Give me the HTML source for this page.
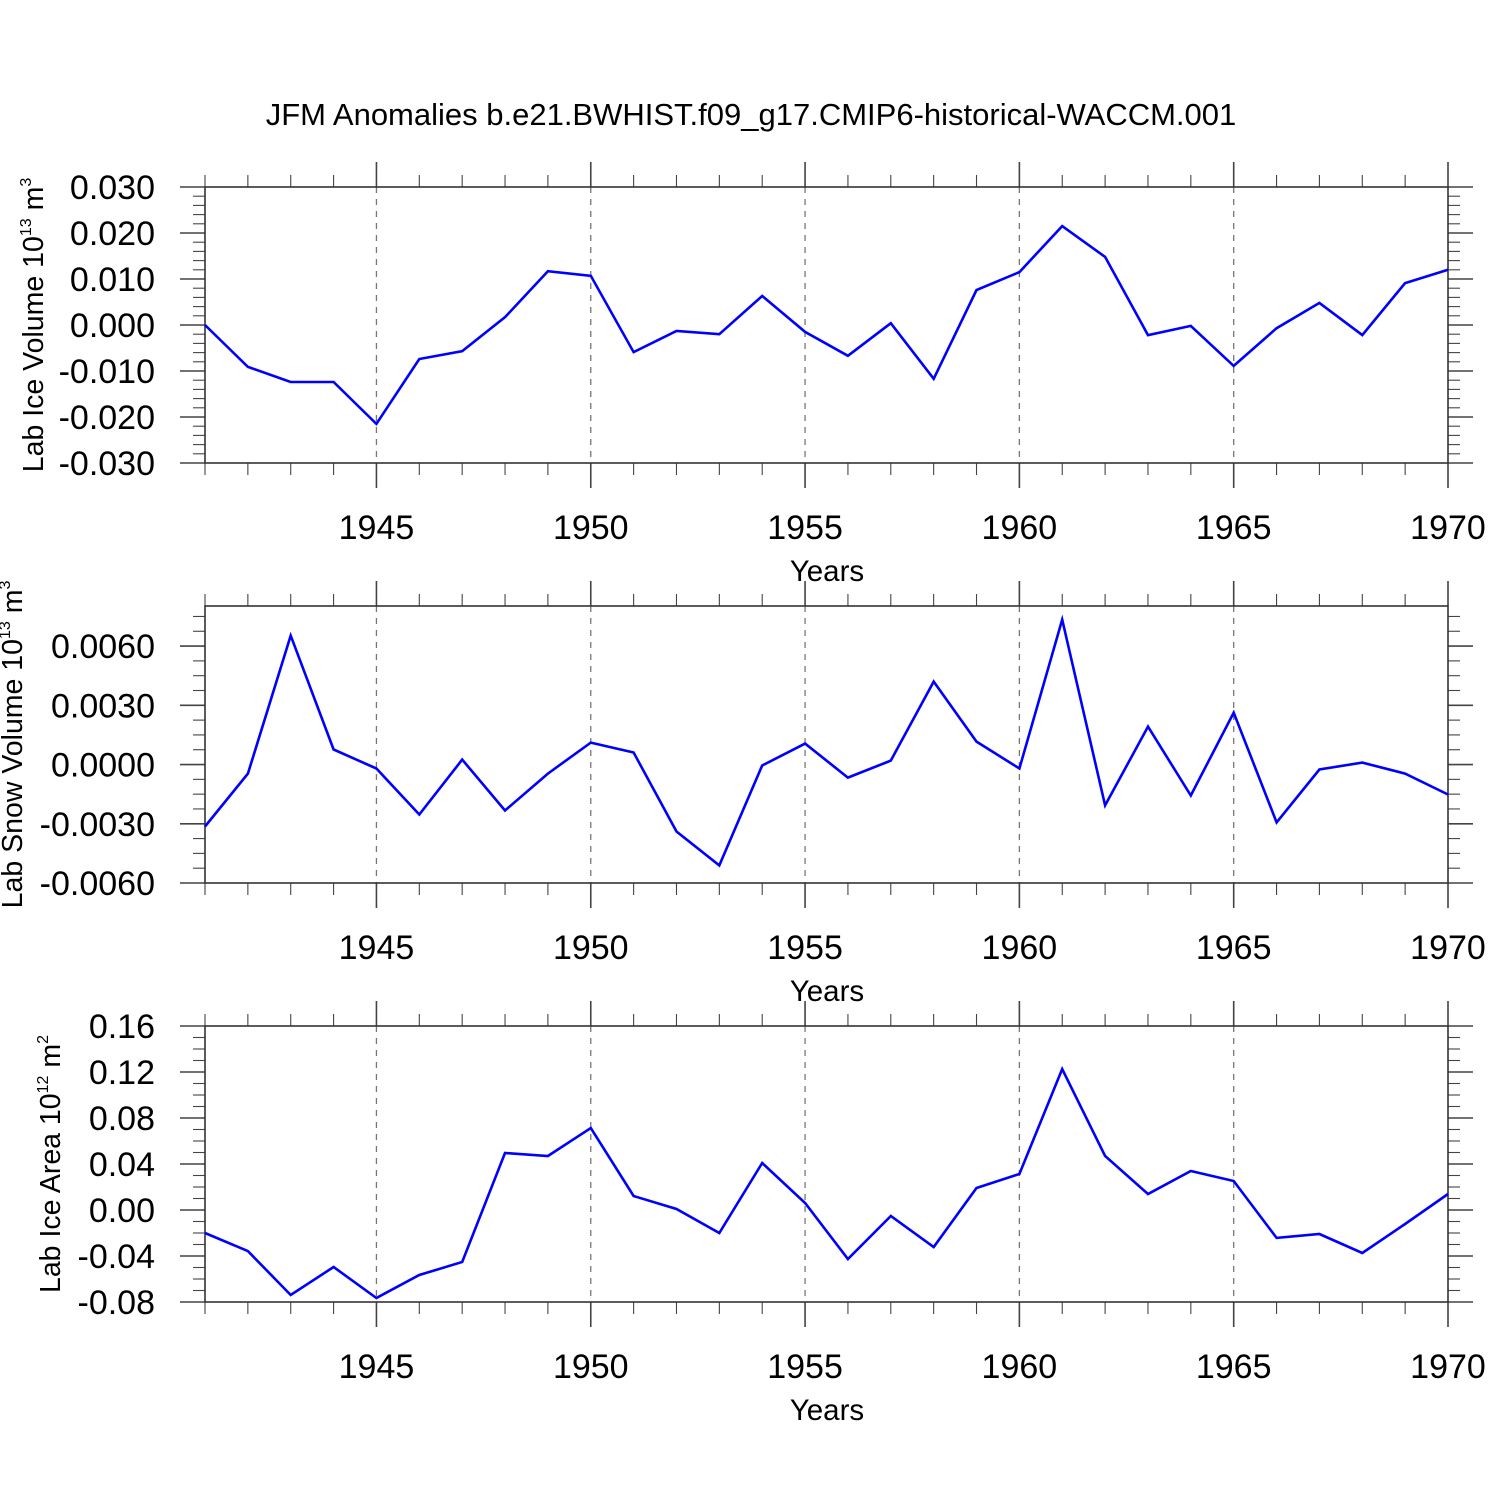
<!DOCTYPE html>
<html><head><meta charset="utf-8"><style>
html,body{margin:0;padding:0;background:#fff;}
svg{display:block;font-family:"Liberation Sans",sans-serif;}
</style></head><body>
<svg id="chart" width="1500" height="1500" xmlns="http://www.w3.org/2000/svg">
<text x="751" y="125" font-size="31" text-anchor="middle">JFM Anomalies b.e21.BWHIST.f09_g17.CMIP6-historical-WACCM.001</text>
</svg>
<script>
const years = [1941,1942,1943,1944,1945,1946,1947,1948,1949,1950,1951,1952,1953,1954,1955,1956,1957,1958,1959,1960,1961,1962,1963,1964,1965,1966,1967,1968,1969,1970];
const iceVolume = [0,-0.0091,-0.0124,-0.0124,-0.0215,-0.0074,-0.0057,0.0017,0.0117,0.0107,-0.0059,-0.0013,-0.002,0.0063,-0.0015,-0.0067,0.0004,-0.0117,0.0076,0.0115,0.0215,0.0148,-0.0022,-0.0002,-0.0089,-0.0007,0.0048,-0.0022,0.0091,0.012];
const snowVolume = [-0.00314,-0.00046,0.00653,0.00076,-0.0002,-0.00253,0.00025,-0.00233,-0.00046,0.00111,0.00061,-0.00339,-0.00511,-0.00005,0.00106,-0.00066,0.0002,0.0042,0.00116,-0.0002,0.00734,-0.00207,0.00192,-0.00157,0.00263,-0.00293,-0.00025,0.0001,-0.00046,-0.00152];
const iceArea = [-0.02,-0.0357,-0.0739,-0.0496,-0.0765,-0.0565,-0.0452,0.0496,0.047,0.0713,0.0122,0.0009,-0.02,0.0409,0.0061,-0.0426,-0.0052,-0.0322,0.0191,0.0313,0.1226,0.047,0.0139,0.0339,0.0252,-0.0243,-0.0209,-0.0374,-0.0122,0.0139];
const xTicks = [1945,1950,1955,1960,1965,1970];
const iceVolTicks = ["0.030","0.020","0.010","0.000","-0.010","-0.020","-0.030"];
const snowTicks = ["0.0060","0.0030","0.0000","-0.0030","-0.0060"];
const areaTicks = ["0.16","0.12","0.08","0.04","0.00","-0.04","-0.08"];

const NS="http://www.w3.org/2000/svg";
const svg=document.getElementById('chart');
function mk(tag,attrs,parent){const e=document.createElementNS(NS,tag);for(const k in attrs)e.setAttribute(k,attrs[k]);(parent||svg).appendChild(e);return e;}
const X0=205,X1=1448,xMin=1941,xMax=1970;
const xs=v=>X0+(v-xMin)/(xMax-xMin)*(X1-X0);

function panel(name,top,bot,yMin,yMax,tickLabels,minorStep,data,titleX,titleMain,sup,unitSup){
  const g=mk('g',{});
  
  
  const ys=v=>bot-(v-yMin)/(yMax-yMin)*(bot-top);
  xTicks.forEach(t=>{ if(t<xMax){const l=mk('line',{x1:xs(t),x2:xs(t),y1:top,y2:bot,stroke:'#777','stroke-width':1.3,'stroke-dasharray':'6,6'},g);
    }});
  years.forEach(y=>{
    const maj=xTicks.includes(y);
    const L=maj?25:12;
    mk('line',{x1:xs(y),x2:xs(y),y1:top-L,y2:top,stroke:'#444','stroke-width':maj?1.6:1.1},g);
    mk('line',{x1:xs(y),x2:xs(y),y1:bot,y2:bot+L,stroke:'#444','stroke-width':maj?1.6:1.1},g);
  });
  const majVals=tickLabels.map(Number);
  const eps=1e-9;
  for(let v=Math.min(...majVals);v<=yMax+eps;v+=minorStep){
    const y=ys(v);if(y<top-0.5)break;
    const maj=majVals.some(m=>Math.abs(m-v)<minorStep/10);
    const L=maj?25:12;
    mk('line',{x1:X0-L,x2:X0,y1:y,y2:y,stroke:'#444','stroke-width':maj?1.6:1.1},g);
    mk('line',{x1:X1,x2:X1+L,y1:y,y2:y,stroke:'#444','stroke-width':maj?1.6:1.1},g);
  }
  tickLabels.forEach(t=>{
    const tx=mk('text',{x:155,y:ys(Number(t))+12,'font-size':34,'text-anchor':'end'},g);
    tx.textContent=t;
    
  });
  xTicks.forEach(t=>{
    const tx=mk('text',{x:xs(t),y:bot+76,'font-size':34,'text-anchor':'middle'},g);
    tx.textContent=t;
    
  });
  const xt=mk('text',{x:827,y:bot+118,'font-size':29.5,'text-anchor':'middle'},g);
  xt.textContent='Years';
  
  const fr=mk('rect',{x:X0,y:top,width:X1-X0,height:bot-top,fill:'none',stroke:'#333','stroke-width':1.6},g);
  
  const pts=data.map((v,i)=>xs(years[i]).toFixed(1)+','+ys(v).toFixed(1)).join(' ');
  const pl=mk('polyline',{points:pts,fill:'none',stroke:'#0000ff','stroke-width':2.6,'stroke-linejoin':'miter'},g);
  
  const cy=(top+bot)/2;
  const yt=mk('text',{x:titleX,y:cy,'font-size':28.5,'text-anchor':'middle',transform:`rotate(-90 ${titleX} ${cy})`},g);
  
  const a=mk('tspan',{},yt);a.textContent=titleMain;
  const b=mk('tspan',{dy:-12,'font-size':16},yt);b.textContent=sup;
  const c=mk('tspan',{dy:12},yt);c.textContent=' m';
  const d=mk('tspan',{dy:-12,'font-size':16},yt);d.textContent=unitSup;
}
panel('ice-volume-panel',187,463,-0.03,0.03,iceVolTicks,0.002,iceVolume,43,'Lab Ice Volume 10','13','3');
panel('snow-volume-panel',606,883,-0.006,0.00803,snowTicks,0.00075,snowVolume,22,'Lab Snow Volume 10','13','3');
panel('ice-area-panel',1026,1302,-0.08,0.16,areaTicks,0.01,iceArea,60,'Lab Ice Area 10','12','2');
</script>
</body></html>
